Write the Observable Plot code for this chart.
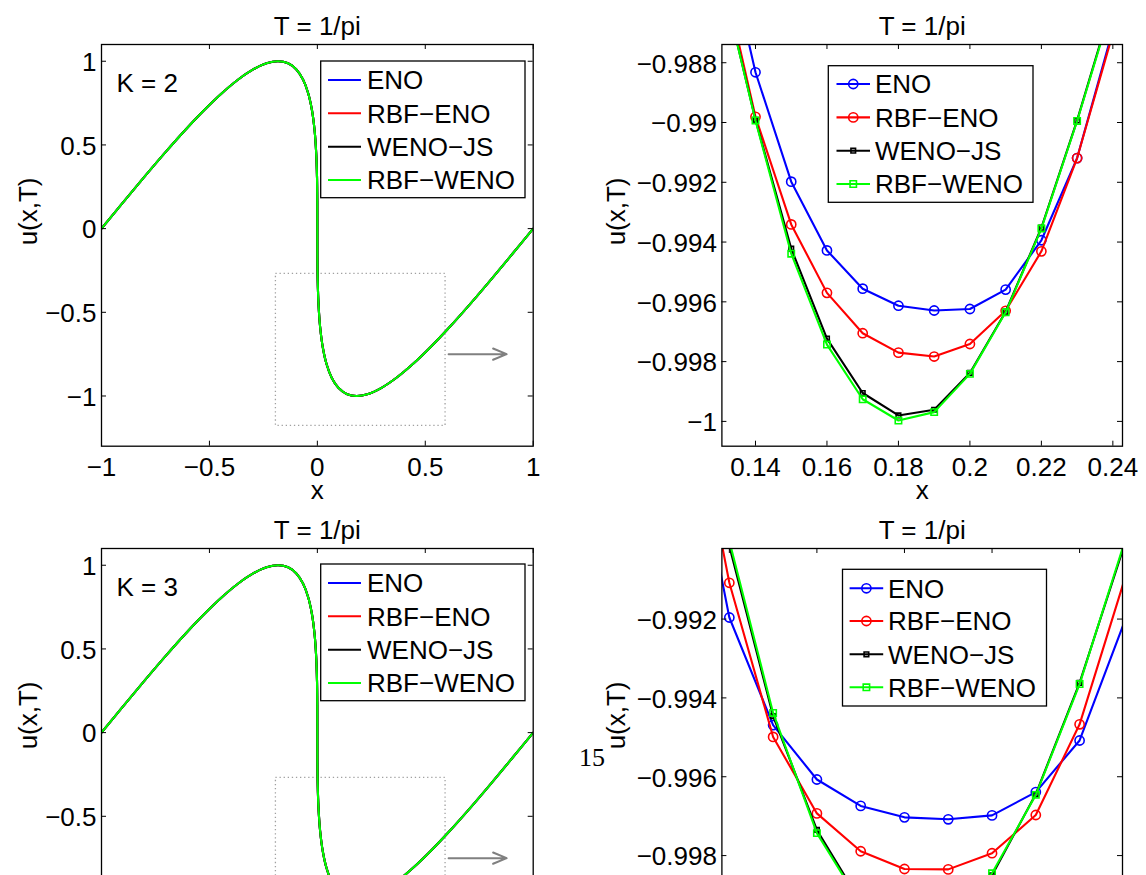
<!DOCTYPE html>
<html><head><meta charset="utf-8">
<script src="https://cdn.jsdelivr.net/npm/d3@7"></script>
<script src="https://cdn.jsdelivr.net/npm/@observablehq/plot@0.6"></script>
<style>
html,body{margin:0;padding:0;background:#fff;overflow:hidden;}
#page{position:relative;width:1146px;height:875px;overflow:hidden;background:#fff;font-family:"Liberation Sans",Arial,sans-serif;}
.panel{position:absolute;}
.panel svg{display:block;max-width:none;}
#overlay{position:absolute;left:0;top:0;}
</style></head><body><div id="page"></div>
<script>
// ---------- data ----------
const methods = ["ENO", "RBF-ENO", "WENO-JS", "RBF-WENO"];
const legendLabels = ["ENO", "RBF\u2212ENO", "WENO\u2212JS", "RBF\u2212WENO"];
const colors = ["#0000ff", "#ff0000", "#000000", "#00ff00"];
const symbols = ["circle", "circle", "square", "square"];
const markerR = [4.6, 4.6, 2.6, 3.6];

const title = "T = 1/pi";
const xLabel = "x";
const yLabel = "u(x,T)";
const kLabels = ["K = 2", "K = 3"];
const pageNumber = "15";

// full profile u(x,T) (all four schemes coincide at this scale)
const profileX = [-1, -0.9002, -0.8016, -0.7055, -0.6129, -0.5249, -0.4425, -0.3664, -0.2973, -0.2356, -0.1817, -0.1356, -0.0973, -0.0664, -0.0425, -0.0249, -0.0129, -0.0055, -0.0016, -0.0002, 0, 0.0002, 0.0016, 0.0055, 0.0129, 0.0249, 0.0425, 0.0664, 0.0973, 0.1356, 0.1817, 0.2356, 0.2973, 0.3664, 0.4425, 0.5249, 0.6129, 0.7055, 0.8016, 0.9002, 1];
const profileU = [0, 0.1564, 0.3090, 0.4540, 0.5878, 0.7071, 0.8090, 0.8910, 0.9511, 0.9877, 1.0, 0.9877, 0.9511, 0.8910, 0.8090, 0.7071, 0.5878, 0.4540, 0.3090, 0.1564, 0, -0.1564, -0.3090, -0.4540, -0.5878, -0.7071, -0.8090, -0.8910, -0.9511, -0.9877, -1.0, -0.9877, -0.9511, -0.8910, -0.8090, -0.7071, -0.5878, -0.4540, -0.3090, -0.1564, 0];

// zoomed region, K = 2
const zoomXK2 = [0.13, 0.14, 0.15, 0.16, 0.17, 0.18, 0.19, 0.20, 0.21, 0.22, 0.23, 0.24];
const k2ENO     = [-0.98310, -0.98832, -0.99198, -0.99428, -0.99556, -0.99613, -0.99629, -0.99624, -0.99559, -0.99394, -0.99119, -0.98690];
const k2RBFENO  = [-0.98455, -0.98981, -0.99341, -0.99570, -0.99705, -0.99770, -0.99783, -0.99741, -0.99630, -0.99431, -0.99119, -0.98702];
const k2WENOJS  = [-0.98490, -0.98991, -0.99422, -0.99723, -0.99905, -0.99980, -0.99961, -0.99838, -0.99633, -0.99352, -0.98993, -0.98594];
const k2RBFWENO = [-0.98490, -0.98993, -0.99439, -0.99743, -0.99926, -0.99997, -0.99969, -0.99841, -0.99635, -0.99355, -0.98995, -0.98600];

// zoomed region, K = 3
const zoomXK3 = [0.13, 0.14, 0.15, 0.16, 0.17, 0.18, 0.19, 0.20, 0.21, 0.22, 0.23];
const k3ENO     = [-0.98631, -0.99196, -0.99469, -0.99607, -0.99674, -0.99703, -0.99708, -0.99698, -0.99639, -0.99508, -0.99214];
const k3RBFENO  = [-0.98538, -0.99108, -0.99499, -0.99693, -0.99789, -0.99834, -0.99835, -0.99794, -0.99697, -0.99467, -0.99109];
const k3WENOJS  = [-0.98515, -0.99015, -0.99446, -0.99735, -0.99918, -0.99998, -0.99978, -0.99850, -0.99644, -0.99362, -0.99020];
const k3RBFWENO = [-0.98500, -0.99002, -0.99438, -0.99743, -0.99923, -1.00003, -0.99985, -0.99845, -0.99646, -0.99365, -0.99014];

// tick values
const fullXTicks = [-1, -0.5, 0, 0.5, 1];
const fullYTicks = [1, 0.5, 0, -0.5, -1];
const k2XTicks = [0.14, 0.16, 0.18, 0.2, 0.22, 0.24];
const k2YTicks = [-0.988, -0.99, -0.992, -0.994, -0.996, -0.998, -1];
const k3XTicks = [0.14, 0.16, 0.18, 0.2, 0.22];
const k3YTicks = [-0.992, -0.994, -0.996, -0.998, -1];
// tick labels visible above the page cut for the lower row
const fullYTickLabelsLower = [1, 0.5, 0, -0.5];
const k3YTickLabelsLower = [-0.992, -0.994, -0.996, -0.998];

// axis limits
const fullXDomain = [-1, 1];
const fullYDomain = [-1.3, 1.1];
const k2XDomain = [0.1306, 0.2427];
const k2YDomain = [-1.00083, -0.98739];
const k3XDomain = [0.1383, 0.2298];
const k3YDomain = [-1.0004, -0.99021];

// annotation: dotted zoom box and arrow on the full plots
const zoomBox = [{x1: -0.192, x2: 0.594, y1: -1.179, y2: -0.271}];
const zoomArrow = [{x1: 0.608, x2: 0.877, y: -0.75}];

// ---------- drawing ----------
const FONT = "'Liberation Sans', Arial, Helvetica, sans-serif";
const fmt = d => String(d).replace("-", "\u2212");
const page = document.getElementById("page");

function makePanel(cfg) {
  const fw = cfg.width - cfg.mL - cfg.mR;
  const fh = cfg.height - cfg.mT - cfg.mB;
  const marks = [];
  if (cfg.box) {
    marks.push(Plot.rect(zoomBox, {x1: "x1", x2: "x2", y1: "y1", y2: "y2", fill: "none", stroke: "#a0a0a0", strokeWidth: 1.3, strokeDasharray: "1.3 2.8"}));
    marks.push(Plot.arrow(zoomArrow, {x1: "x1", x2: "x2", y1: "y", y2: "y", stroke: "#808080", strokeWidth: 2, headLength: 11, headAngle: 45}));
  }
  const [xa, xb] = cfg.xDomain, [ya, yb] = cfg.yDomain;
  cfg.series.forEach((u, i) => {
    const rows = cfg.x.map((x, j) => ({x, u: u[j]}));
    marks.push(Plot.line(rows, {x: "x", y: "u", stroke: colors[i], strokeWidth: 2.1, curve: cfg.curve, clip: true}));
    if (cfg.markers) {
      const inside = rows.filter(d => d.x >= xa && d.x <= xb && d.u >= ya && d.u <= yb);
      marks.push(Plot.dot(inside, {x: "x", y: "u", stroke: colors[i], symbol: symbols[i], r: markerR[i], strokeWidth: 1.6, fill: "none", clip: true}));
    }
  });
  // inward ticks on all four sides
  marks.push(Plot.ruleX(cfg.xTicks, {x: d => d, insetTop: fh - 5, stroke: "#000", strokeWidth: 1}));
  marks.push(Plot.ruleX(cfg.xTicks, {x: d => d, insetBottom: fh - 5, stroke: "#000", strokeWidth: 1}));
  marks.push(Plot.ruleY(cfg.yTicks, {y: d => d, insetRight: fw - 5, stroke: "#000", strokeWidth: 1}));
  marks.push(Plot.ruleY(cfg.yTicks, {y: d => d, insetLeft: fw - 5, stroke: "#000", strokeWidth: 1}));
  marks.push(Plot.frame({stroke: "#000", strokeWidth: 1.3}));
  if (cfg.showXAxisText) {
    marks.push(Plot.axisX({ticks: cfg.xTicks, tickSize: 0, tickPadding: 11, tickFormat: fmt, label: null, fontSize: 26}));
    marks.push(Plot.text([xLabel], {text: d => d, frameAnchor: "bottom", dy: 53, lineAnchor: "bottom", fontSize: 26}));
  } else {
    marks.push(Plot.axisX({ticks: [], tickSize: 0, label: null}));
  }
  marks.push(Plot.axisY({ticks: cfg.yTickLabels, tickSize: 0, tickPadding: 5, tickFormat: fmt, label: null, fontSize: 26, dy: 1.5}));
  marks.push(Plot.text([title], {text: d => d, frameAnchor: "top", dy: -10, lineAnchor: "bottom", fontSize: 26}));
  marks.push(Plot.text([yLabel], {text: d => d, frameAnchor: "left", dx: -cfg.yLabelOffset, rotate: -90, lineAnchor: "middle", fontSize: 26}));
  if (cfg.kLabel) marks.push(Plot.text([cfg.kLabel], {text: d => d, frameAnchor: "top-left", dx: 15, dy: 47.7, textAnchor: "start", lineAnchor: "bottom", fontSize: 26}));

  const svg = Plot.plot({
    width: cfg.width, height: cfg.height,
    marginLeft: cfg.mL, marginRight: cfg.mR, marginTop: cfg.mT, marginBottom: cfg.mB,
    x: {domain: cfg.xDomain},
    y: {domain: cfg.yDomain},
    style: {background: "transparent", overflow: "visible", fontFamily: FONT, fontSize: "26px", color: "#000"},
    marks
  });
  const div = document.createElement("div");
  div.className = "panel";
  div.style.left = cfg.left + "px";
  div.style.top = cfg.top + "px";
  div.style.width = cfg.width + "px";
  div.style.height = cfg.height + "px";
  div.appendChild(svg);
  page.appendChild(div);
}

const leftGeom = {width: 560, height: 520, mL: 101, mR: 27.3, mT: 44, mB: 74.3, yLabelOffset: 73};
const rightGeom = {width: 586, height: 520, mL: 161.4, mR: 24, mT: 44, mB: 74.3, yLabelOffset: 105};
const fullSeries = [profileU, profileU, profileU, profileU];

makePanel({...leftGeom, left: 0, top: 0, x: profileX, series: fullSeries, curve: "catmull-rom", markers: false, box: true,
  xDomain: fullXDomain, yDomain: fullYDomain, xTicks: fullXTicks, yTicks: fullYTicks, yTickLabels: fullYTicks, showXAxisText: true, kLabel: kLabels[0]});
makePanel({...rightGeom, left: 560, top: 0, x: zoomXK2, series: [k2ENO, k2RBFENO, k2WENOJS, k2RBFWENO], curve: "linear", markers: true,
  xDomain: k2XDomain, yDomain: k2YDomain, xTicks: k2XTicks, yTicks: k2YTicks, yTickLabels: k2YTicks, showXAxisText: true});
makePanel({...leftGeom, left: 0, top: 504, x: profileX, series: fullSeries, curve: "catmull-rom", markers: false, box: true,
  xDomain: fullXDomain, yDomain: fullYDomain, xTicks: fullXTicks, yTicks: fullYTicks, yTickLabels: fullYTickLabelsLower, showXAxisText: false, kLabel: kLabels[1]});
makePanel({...rightGeom, left: 560, top: 504, x: zoomXK3, series: [k3ENO, k3RBFENO, k3WENOJS, k3RBFWENO], curve: "linear", markers: true,
  xDomain: k3XDomain, yDomain: k3YDomain, xTicks: k3XTicks, yTicks: k3YTicks, yTickLabels: k3YTickLabelsLower, showXAxisText: false});

// ---------- legends + page number overlay ----------
const overlay = d3.select(page).append("svg").attr("id", "overlay").attr("width", 1146).attr("height", 875)
  .attr("font-family", FONT).attr("font-size", 26);

const legends = [
  {x: 320.7, y: 61, w: 204.3, h: 136.7, rows: [19, 52.3, 85.7, 119], sw: [7.3, 40.3], tx: 46.3, markers: false},
  {x: 828.3, y: 65.7, w: 204.7, h: 136.6, rows: [18.3, 51.7, 85, 118.3], sw: [8.2, 41.7], tx: 46.7, markers: true},
  {x: 320.7, y: 564, w: 204.3, h: 136.7, rows: [19, 52.3, 85.7, 119], sw: [7.3, 40.3], tx: 46.3, markers: false},
  {x: 842.5, y: 569.3, w: 204, h: 136.7, rows: [19, 51.7, 85, 118], sw: [7.1, 40.7], tx: 45.5, markers: true}
];
legends.forEach(L => {
  const g = overlay.append("g").attr("transform", `translate(${L.x},${L.y})`);
  g.append("rect").attr("width", L.w).attr("height", L.h).attr("fill", "#fff").attr("stroke", "#000").attr("stroke-width", 1.3);
  methods.forEach((m, i) => {
    const cy = L.rows[i];
    g.append("line").attr("x1", L.sw[0]).attr("x2", L.sw[1]).attr("y1", cy).attr("y2", cy)
      .attr("stroke", colors[i]).attr("stroke-width", 2.1);
    if (L.markers) {
      const cx = (L.sw[0] + L.sw[1]) / 2;
      const sym = symbols[i] === "circle" ? d3.symbolCircle : d3.symbolSquare;
      g.append("path").attr("d", d3.symbol(sym, Math.PI * markerR[i] * markerR[i])())
        .attr("transform", `translate(${cx},${cy})`).attr("fill", "none").attr("stroke", colors[i]).attr("stroke-width", 1.6);
    }
    g.append("text").attr("x", L.tx).attr("y", cy + 9.3).attr("fill", "#000").text(legendLabels[i]);
  });
});

overlay.append("text").attr("x", 579).attr("y", 766).attr("font-family", "'Liberation Serif', 'DejaVu Serif', serif")
  .attr("font-size", 26).attr("fill", "#000").text(pageNumber);
</script></body></html>
